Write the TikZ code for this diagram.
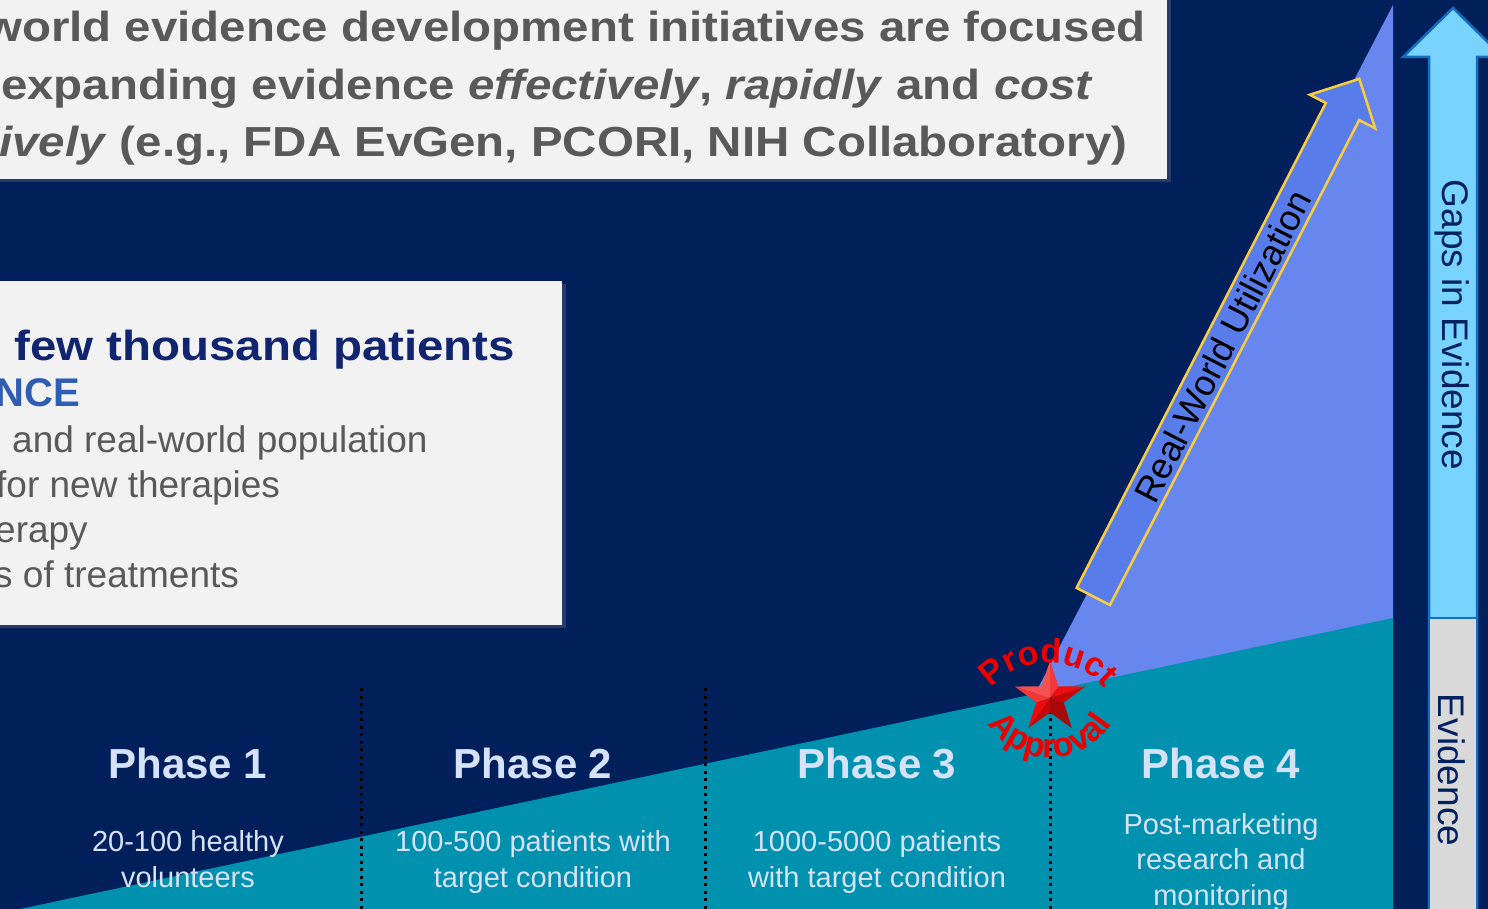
\documentclass[tikz,border=0pt]{standalone}
\usepackage{fontspec}
\setmainfont{Liberation Sans}
\newfontfamily\widesans[FakeStretch=1.13]{Liberation Sans}
\usetikzlibrary{shapes.arrows,decorations.text,shadows}

\definecolor{navybg}{RGB}{0,31,91}
\definecolor{tealarea}{RGB}{0,145,175}
\definecolor{liftblue}{RGB}{103,135,238}
\definecolor{rwublue}{RGB}{88,124,234}
\definecolor{rwuedge}{RGB}{250,205,60}
\definecolor{boxgray}{RGB}{242,242,242}
\definecolor{textgray}{RGB}{89,89,89}
\definecolor{headnavy}{RGB}{16,36,112}
\definecolor{nceblue}{RGB}{47,93,178}
\definecolor{phasefg}{RGB}{214,226,250}
\definecolor{gapcyan}{RGB}{120,212,255}
\definecolor{gapedge}{RGB}{20,110,190}
\definecolor{evgray}{RGB}{217,217,217}
\definecolor{gapnavy}{RGB}{0,32,96}
\definecolor{starred}{RGB}{240,10,10}
\definecolor{approvalred}{RGB}{235,0,0}

\tikzset{
  phase/.style={anchor=base, inner sep=0pt, text=phasefg, font=\bfseries\fontsize{42}{50}\selectfont},
  phasenote/.style={anchor=base, inner sep=0pt, align=center, text=phasefg, font=\fontsize{29}{35.5}\selectfont},
  stagesep/.style={line width=3pt, dash pattern=on 3pt off 4.5pt},
  topline/.style={anchor=base west, inner sep=0pt, text=textgray, font=\widesans\bfseries\fontsize{42}{46}\selectfont},
  caseline/.style={anchor=base west, inner sep=0pt, text=textgray, font=\fontsize{37}{45}\selectfont},
  gaptext/.style={rotate=-90, inner sep=0pt, text=gapnavy, font=\fontsize{37}{44}\selectfont},
  arctext/.style={decorate, decoration={text along path, text align=center,
      text={|\bfseries\fontsize{34}{34}\selectfont\color{approvalred}|#1}}}
}

\begin{document}
\begin{tikzpicture}[x=1pt,y=1pt]
\useasboundingbox (0,0) rectangle (1488,-909);
\clip (0,0) rectangle (1488,-909);
\fill[navybg] (0,0) rectangle (1488,-909);

% evidence growth areas
\fill[liftblue] (1035,-694) -- (1393,-5) -- (1393,-620) -- cycle;
\fill[tealarea] (20,-909) -- (1393,-618) -- (1393,-909) -- cycle;

% phase separators
\foreach \x in {361,705,1050}
  \draw[stagesep] (\x,-688) -- (\x,-909);

% phases
\node[phase] (ph1) at (188,-778) {Phase 1};
\node[phase] (ph2) at (533,-778) {Phase 2};
\node[phase] (ph3) at (877,-778) {Phase 3};
\node[phase] (ph4) at (1221,-778) {Phase 4};
\node[phasenote] (ph1note) at (188,-887) {20-100 healthy\\volunteers};
\node[phasenote] (ph2note) at (533,-887) {100-500 patients with\\target condition};
\node[phasenote] (ph3note) at (877,-887) {1000-5000 patients\\with target condition};
\node[phasenote] (ph4note) at (1221,-905) {Post-marketing\\research and\\monitoring};

% top text box
\path[fill=boxgray, drop shadow={opacity=0.3, shadow xshift=4pt, shadow yshift=-3pt}] (-20,20) rectangle (1167,-179);
\node[topline] (top1) at (-15,-42) {world evidence development initiatives are focused};
\node[topline] (top2) at (1,-100) {expanding evidence \textit{effectively}, \textit{rapidly} and \textit{cost}};
\node[topline] (top3) at (-1,-157) {\textit{ively} (e.g., FDA EvGen, PCORI, NIH Collaboratory)};

% trial population box
\path[fill=boxgray, drop shadow={opacity=0.3, shadow xshift=4pt, shadow yshift=-3pt}] (-20,-281) rectangle (562,-625);
\node[topline, text=headnavy] (casehead) at (14,-360) {few thousand patients};
\node[anchor=base east, inner sep=0pt, text=nceblue, font=\bfseries\fontsize{40}{46}\selectfont] (nce) at (80,-406) {NCE};
\node[caseline] (case1) at (12,-452) {and real-world population};
\node[caseline] (case2) at (-4,-497) {for new therapies};
\node[caseline] (case3) at (-5,-542) {erapy};
\node[caseline] (case4) at (-6,-587) {s of treatments};

% real-world utilization arrow
\node[single arrow, single arrow head extend=18pt, single arrow tip angle=90,
  minimum height=582pt, inner xsep=0pt, inner ysep=0pt,
  text height=31pt, text depth=4pt, fill=rwublue, draw=rwuedge, line width=2.5pt,
  font=\fontsize{36}{36}\selectfont, rotate=62.8] (rwu) at (1222,-346) {Real-World Utilization};

% gaps arrow
\draw[fill=gapcyan, draw=gapedge, line width=2.5pt] (1429,-920) -- (1429,-57) -- (1403,-57)
  -- (1453,-8) -- (1503,-57) -- (1477,-57) -- (1477,-920);
\draw[fill=evgray, draw=gapedge, line width=2.5pt] (1429,-618) rectangle (1477,-920);
\node[gaptext] (gaps) at (1452,-325) {Gaps in Evidence};
\node[gaptext] (evid) at (1452,-770) {Evidence};

% approval star
\coordinate (approval) at (1050,-698);
\foreach \k in {0,...,4}{
  \pgfmathsetmacro\ang{90+72*\k}
  \foreach \side in {1,-1}{
    \pgfmathsetmacro\lit{cos(\ang+18*\side-125)}
    \pgfmathtruncatemacro\pct{\lit>0 ? 100-30*\lit : 100+30*\lit}
    \pgfmathsetmacro\mixer{\lit>0 ? 1 : 0}
    \ifdim\mixer pt>0.5pt
      \fill[starred!\pct!white] (approval) -- ([shift={(\ang:37)}]approval) -- ([shift={(\ang+36*\side:14.5)}]approval) -- cycle;
    \else
      \fill[starred!\pct!black] (approval) -- ([shift={(\ang:37)}]approval) -- ([shift={(\ang+36*\side:14.5)}]approval) -- cycle;
    \fi
  }
}
\path[arctext=Product] ([shift={(155:77)}]1048,-740) arc (155:25:77);
\path[arctext=Approval] ([shift={(200:73)}]1050,-685) arc (200:340:73);
\end{tikzpicture}
\end{document}
